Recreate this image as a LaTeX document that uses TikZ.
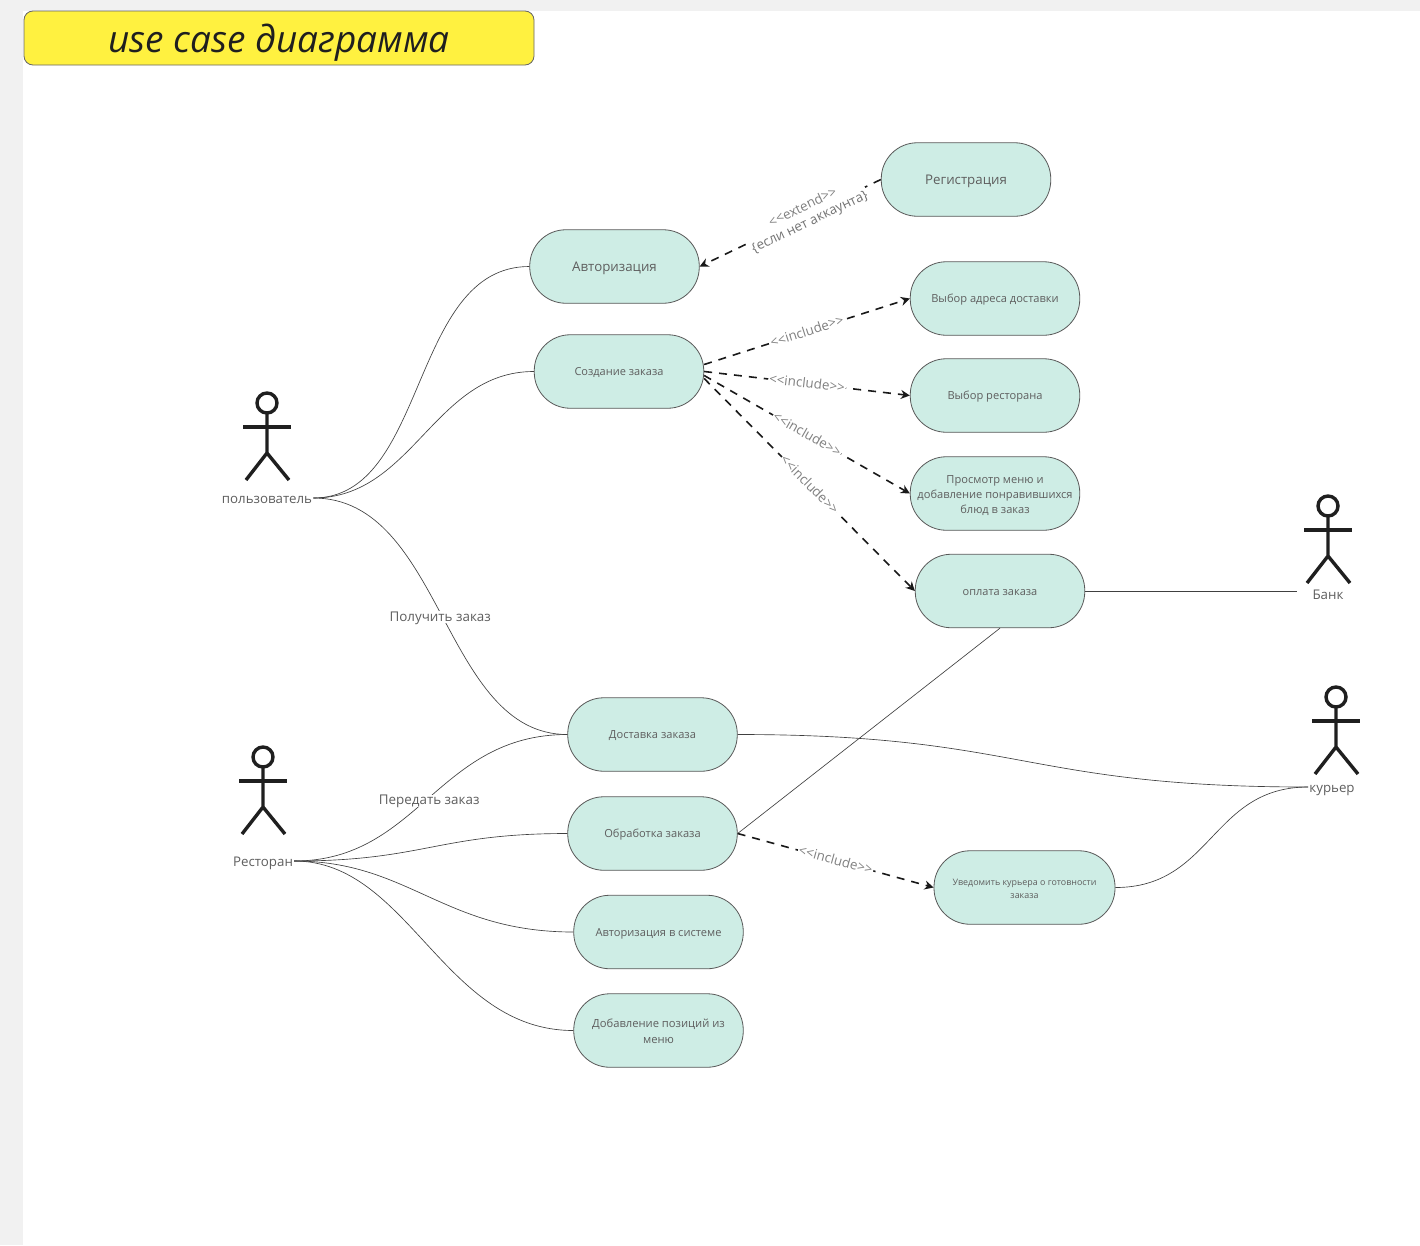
\documentclass[tikz,border=0pt]{standalone}
\usepackage{fontspec}
\setmainfont{Open Sans}
\usetikzlibrary{arrows.meta}
\definecolor{pagegray}{HTML}{F1F1F1}
\definecolor{casefill}{HTML}{CEEDE5}
\definecolor{titlefill}{HTML}{FFF140}
\definecolor{inktext}{HTML}{5E5E5E}
\newcommand{\incl}{<{}<include>{}>}
\begin{document}
\begin{tikzpicture}[
		x=1pt, y=-1pt,
		usecase/.style	={ draw=black!65, fill=casefill, text=inktext,
			rounded corners=36pt, line width=0.8pt,
			minimum width=169.5pt, minimum height=73.5pt,
			inner sep=2pt, align=center, text depth=0pt,
		},
		actor/.style 	={ draw=black!88, line width=3.4pt },
		actorname/.style 	={ text=inktext, inner sep=1pt, text height=11pt, text depth=0pt,
			font=\fontsize{13.3}{15}\selectfont },
		assoc/.style 	={ draw=black!75, line width=0.65pt },
		dep/.style 		={ draw=black!90, line width=1.6pt, dash pattern=on 8pt off 7pt,
			-{Stealth[length=9pt,width=9pt]},
		},
		deplabel/.style ={ sloped, fill=white, text=black!50, inner sep=1pt,
			align=center, font=\fontsize{13.4}{16}\selectfont },
		inclabel/.style ={ deplabel, text height=9pt, text depth=0pt },
		curvelabel/.style ={ fill=white, text=inktext, inner sep=1pt, text height=9pt, text depth=1pt,
			yshift=-1pt, font=\fontsize{13.4}{15}\selectfont },
	]
	\useasboundingbox (0,0) rectangle (1420,1245);

	% page and title
	\fill [pagegray] (0,0) rectangle (1420,1245);
	\fill [white] (23,11) rectangle (1420,1245);
	\node (title) [draw=black!60, fill=titlefill, rounded corners=9pt, line width=0.8pt,
			minimum width=510pt, minimum height=54pt, inner sep=0pt, text height=28pt, text depth=0pt,
			text=black!88, font=\fontsize{37}{40}\selectfont\itshape] at (279,38) {use case диаграмма};

	\def\mylist{	auth/614.5/266.5/13.3/9/{Авторизация}, reg/966/179.5/13.3/9/{Регистрация},
					create/619/371.5/11/8/{Создание заказа},
					addr/995/298.5/11.1/8/{Выбор адреса доставки},
					rest/995/395.5/11.1/8/{Выбор ресторана},
					menu/995/493.5/11.1/40/{Просмотр меню и\\добавление понравившихся\\блюд в заказ},
					pay/1000/591/11/8/{оплата заказа},
					deliv/652.5/734.5/11.1/8/{Доставка заказа},
					proc/652.5/833.5/11.1/8/{Обработка заказа},
					authsys/658.5/932/11.1/8/{Авторизация в системе},
					addpos/658.5/1030.5/11.2/25/{Добавление позиций из\\меню}}

	% draw use cases
	\foreach \name/\px/\py/\fs/\tht/\txt in \mylist {
			\node (\name) [usecase, text height=\tht pt, font=\fontsize{\fs}{15.2}\selectfont] at (\px,\py) {\txt};
		}
	\node (notify) [usecase, minimum width=181pt, text height=21pt, font=\fontsize{8.9}{13}\selectfont] at (1024.5,887.5)
			{Уведомить курьера о готовности\\заказа};

	% draw actors
	\foreach \name/\px/\py/\lx/\ly/\txt in {usr/267/403/267/498/пользователь, shop/263/757/263/861/Ресторан,
			bank/1328/506/1328/594/Банк, cour/1336/697/1332/787/курьер} {
			\draw [actor] (\px,\py) circle (10pt);
			\draw [actor] (\px,\py) ++(0,10) -- ++(0,40) -- ++(-21,27) ++(21,-27) -- ++(22,27);
			\draw [actor] (\px,\py) ++(-24,24) -- ++(48,0);
			\node (\name) [actorname] at (\lx,\ly) {\txt};
		}
	\coordinate (bankend) at (1297,591);

	% draw associations
	\draw [assoc] (usr.east) .. controls +(115,0) and +(-120,0) .. (auth.west);
	\draw [assoc] (usr.east) .. controls +(100,0) and +(-100,0) .. (create.west);
	\draw [assoc] (usr.east) .. controls +(130,0) and +(-125,0) .. node [curvelabel, pos=0.5, xshift=-2pt] {Получить заказ} (deliv.west);
	\draw [assoc] (shop.east) .. controls +(125,0) and +(-130,0) .. node [curvelabel, pos=0.49, xshift=2.5pt] {Передать заказ} (deliv.west);
	\draw [assoc] (shop.east) .. controls +(130,0) and +(-130,0) .. (proc.west);
	\draw [assoc] (shop.east) .. controls +(115,0) and +(-130,0) .. (authsys.west);
	\draw [assoc] (shop.east) .. controls +(115,0) and +(-130,0) .. (addpos.west);
	\draw [assoc] (pay.east) -- (bankend);
	\draw [assoc] (pay.south) -- (proc.east);
	\draw [assoc] (deliv.east) .. controls +(285,0) and +(-285,0) .. (cour.west);
	\draw [assoc] (notify.east) .. controls +(97,0) and +(-97,0) .. (cour.west);

	% draw dependencies
	\draw [dep] (reg.west) -- node [deplabel, pos=0.41] {<{}<extend>{}>\\\textcolor{black!55}{\{если нет аккаунта\}}} (auth.east);
	\foreach \target/\off in {addr/7, rest/0, menu/-4, pay/-7} {
			\draw [dep] ([yshift=\off pt]create.east) -- node [inclabel] {\incl} (\target.west);
		}
	\draw [dep] (proc.east) -- node [inclabel] {\incl} (notify.west);

\end{tikzpicture}
\end{document}
